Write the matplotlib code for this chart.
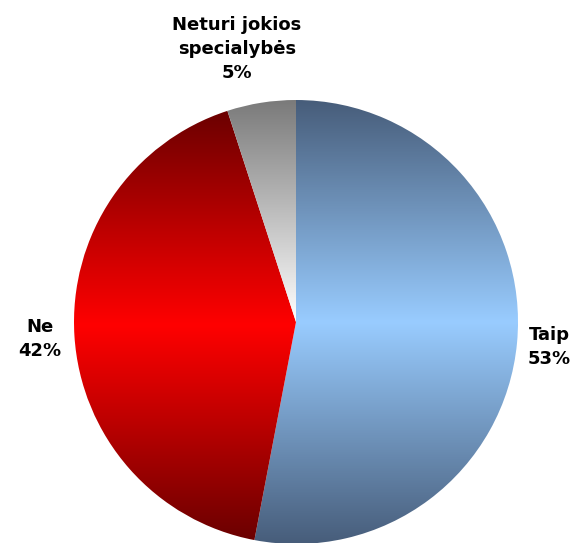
import matplotlib
matplotlib.use("Agg")
import matplotlib.pyplot as plt
import numpy as np
from matplotlib.colors import LinearSegmentedColormap

labels = ["Taip", "Ne", "Neturi jokios\nspecialybės"]
shares = [53, 42, 5]
# gradient stops for each slice, from top of the slice to its bottom
grad_colors = [
    ["#475d7a", "#99ccff", "#475d7a"],
    ["#6b0000", "#ff0000", "#6b0000"],
    ["#7a7a7a", "#ffffff"],
]

W, H = 576, 543
fig = plt.figure(figsize=(W / 100, H / 100), dpi=100)
ax = fig.add_axes([0, 0, 1, 1])

cx, cy, r = 296, H - 322, 222
wedges, _ = ax.pie(shares, startangle=90, counterclock=False,
                   center=(cx, cy), radius=r, frame=True,
                   wedgeprops=dict(linewidth=0))
ax.set_xlim(0, W)
ax.set_ylim(0, H)
ax.set_aspect("equal")
ax.axis("off")

for w, cols in zip(wedges, grad_colors):
    bb = w.get_path().get_extents()
    cmap = LinearSegmentedColormap.from_list("g", cols)
    grad = np.linspace(0, 1, 256).reshape(-1, 1)
    img = ax.imshow(grad, cmap=cmap, aspect="auto", origin="upper",
                    extent=(bb.x0, bb.x1, bb.y0, bb.y1), zorder=2)
    w.set_facecolor("none")
    img.set_clip_path(w)

font = dict(fontsize=13, fontweight="bold", color="black",
            family="DejaVu Sans", linespacing=1.45)
label_text = [f"{n}\n{v}%" for n, v in zip(labels, shares)]
ax.text(549, H - 347, label_text[0], ha="center", va="center", **font)
ax.text(40, H - 339, label_text[1], ha="center", va="center", **font)
ax.text(237, H - 49, label_text[2], ha="center", va="center", **font)

fig.savefig("out.png", dpi=100)
